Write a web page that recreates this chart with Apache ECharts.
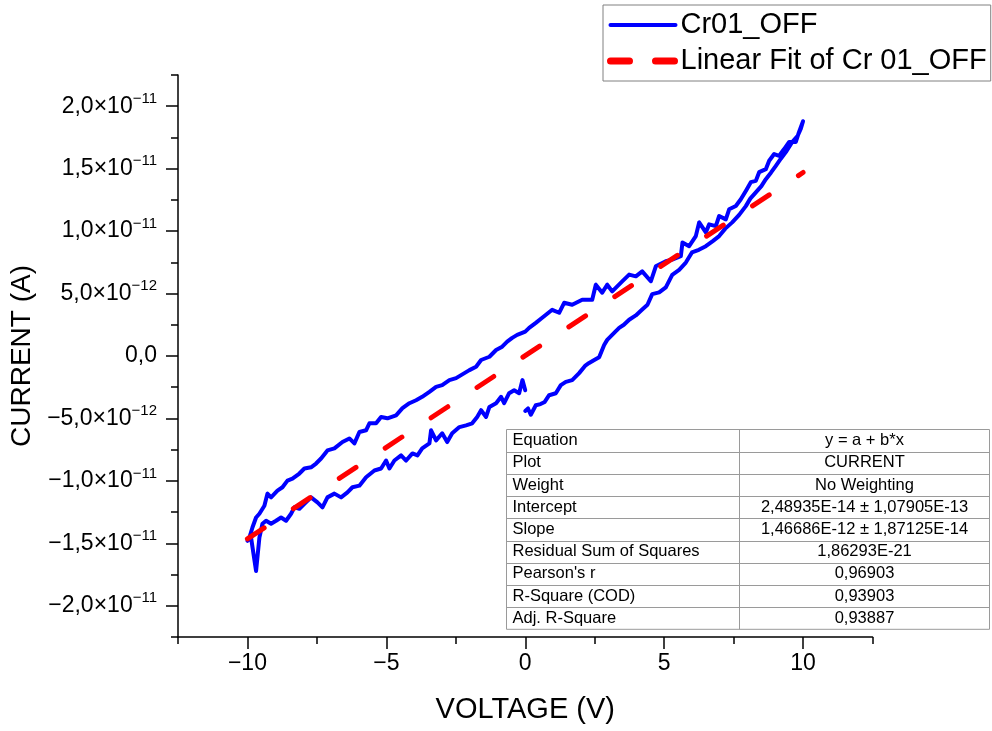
<!DOCTYPE html>
<html>
<head>
<meta charset="utf-8">
<script src="https://cdn.jsdelivr.net/npm/echarts@6/dist/echarts.min.js"></script>
<style>
  html, body { margin: 0; padding: 0; background: #fff; }
  #chart { width: 992px; height: 731px; }
</style>
</head>
<body>
<div id="chart"></div>
<script>
// Currents below are given in pA; CURRENT_UNIT turns them into amperes.
const CURRENT_UNIT = 1e-12;

// Sweep 0 V -> +10 V (lower right branch)
const sweepUpV = [0.0, 0.1, 0.2, 0.38, 0.55, 0.7, 0.86, 1.1, 1.28, 1.46, 1.69, 1.94, 2.15, 2.3, 2.5, 2.66, 2.84, 2.95, 3.2, 3.38, 3.55, 3.74, 3.98, 4.2, 4.4, 4.57, 4.82, 5.06, 5.29, 5.54, 5.78, 6.0, 6.25, 6.5, 6.75, 6.98, 7.2, 7.45, 7.7, 7.94, 8.1, 8.3, 8.5, 8.66, 8.85, 9.02, 9.2, 9.38, 9.6, 9.8, 9.92, 10.0];
const sweepUpI = [-4.4, -4.2, -4.7, -3.94, -3.85, -3.68, -3.14, -2.98, -2.33, -2.07, -1.93, -1.37, -0.8, -0.56, -0.3, -0.1, 0.88, 1.29, 1.85, 2.25, 2.5, 2.9, 3.25, 3.7, 4.1, 4.95, 5.1, 5.5, 6.5, 6.9, 7.48, 8.29, 8.5, 8.79, 9.2, 9.6, 10.2, 10.7, 11.3, 12.0, 12.6, 13.1, 13.6, 14.16, 14.7, 15.23, 15.8, 16.33, 17.1, 17.6, 18.2, 18.8];

// Sweep +10 V -> 0 V (upper right branch)
const sweepBackV = [9.85, 9.74, 9.5, 9.32, 9.14, 8.96, 8.78, 8.66, 8.42, 8.3, 8.12, 7.94, 7.76, 7.58, 7.34, 7.22, 6.98, 6.86, 6.62, 6.5, 6.26, 6.14, 5.9, 5.66, 5.6, 5.29, 5.06, 4.7, 4.52, 4.21, 3.98, 3.74, 3.49, 3.13, 2.95, 2.77, 2.54, 2.41, 2.05, 1.69, 1.4, 1.22, 0.97, 0.61, 0.38, 0.14, 0.0];
const sweepBackI = [17.9, 17.14, 17.14, 16.57, 16.03, 16.17, 15.63, 14.96, 14.72, 14.02, 13.92, 13.22, 12.55, 12.01, 11.75, 10.94, 11.21, 10.4, 10.54, 9.9, 10.7, 9.6, 8.79, 9.09, 7.99, 7.72, 7.59, 7.18, 5.98, 6.78, 6.38, 6.52, 5.98, 5.17, 5.71, 5.07, 5.71, 4.5, 4.5, 4.1, 4.26, 3.46, 3.7, 3.06, 2.65, 2.25, 1.95];

// Sweep 0 V -> -10 V (upper left branch)
const sweepDownV = [-0.11, -0.29, -0.47, -0.65, -0.83, -1.05, -1.29, -1.59, -1.77, -2.01, -2.19, -2.49, -2.73, -2.99, -3.21, -3.45, -3.71, -3.93, -4.17, -4.42, -4.65, -4.96, -5.19, -5.37, -5.61, -5.73, -5.97, -6.15, -6.33, -6.58, -6.87, -7.12, -7.35, -7.53, -7.71, -7.95, -8.13, -8.38, -8.56, -8.74, -8.92, -9.15, -9.28, -9.39, -9.57, -9.69, -9.82, -9.93, -10.0];
const sweepDownI = [1.85, 1.69, 1.45, 1.15, 0.75, 0.48, -0.06, -0.32, -0.86, -1.13, -1.37, -1.77, -1.93, -2.33, -2.47, -2.87, -3.27, -3.54, -3.78, -4.18, -4.75, -4.99, -4.88, -5.39, -5.39, -5.95, -6.09, -7.0, -6.6, -6.89, -7.4, -7.56, -8.21, -8.61, -8.91, -9.01, -9.41, -9.82, -9.98, -10.51, -10.78, -11.32, -11.02, -11.99, -12.63, -12.93, -13.73, -14.54, -14.8];

// Sweep -10 V -> 0 V (lower left branch)
const sweepReturnV = [-9.87, -9.69, -9.57, -9.46, -9.33, -9.15, -8.97, -8.79, -8.61, -8.43, -8.31, -8.13, -7.95, -7.71, -7.48, -7.3, -7.12, -6.87, -6.63, -6.4, -6.22, -5.97, -5.73, -5.43, -5.19, -5.01, -4.89, -4.71, -4.47, -4.29, -4.06, -3.88, -3.71, -3.45, -3.39, -3.21, -2.99, -2.81, -2.63, -2.37, -2.13, -1.91, -1.73, -1.59, -1.41, -1.29, -1.05, -0.87, -0.76, -0.58, -0.4, -0.22, -0.1, 0.0];
const sweepReturnI = [-14.54, -17.22, -14.54, -13.43, -13.19, -13.43, -13.19, -12.93, -13.19, -12.63, -12.12, -12.23, -11.83, -11.32, -11.72, -12.12, -11.32, -11.02, -11.32, -10.92, -10.51, -10.38, -9.71, -9.17, -9.01, -8.37, -9.01, -8.37, -7.96, -8.37, -7.8, -7.96, -7.4, -7.0, -5.95, -6.76, -6.19, -6.89, -6.19, -5.69, -5.55, -5.39, -4.88, -4.34, -4.88, -4.08, -3.78, -3.27, -3.78, -2.98, -2.74, -2.98, -1.93, -2.74];

// Linear fit end points (from intercept 2,48935E-14 A and slope 1,46686E-12 A/V)
const fitV = [-10, 10];
const fitI = [-14.6437, 14.6935];

// Axis ticks
const xMajorTicks = [-10, -5, 0, 5, 10];
const xMinorTicks = [-12.5, -7.5, -2.5, 2.5, 7.5, 12.5];
const yMajorTicks = [-2.0e-11, -1.5e-11, -1.0e-11, -5.0e-12, 0, 5.0e-12, 1.0e-11, 1.5e-11, 2.0e-11];
const yMinorTicks = [-2.25e-11, -1.75e-11, -1.25e-11, -7.5e-12, -2.5e-12, 2.5e-12, 7.5e-12, 1.25e-11, 1.75e-11, 2.25e-11];

// Fit statistics table
const fitLabels = ['Equation', 'Plot', 'Weight', 'Intercept', 'Slope', 'Residual Sum of Squares', "Pearson's r", 'R-Square (COD)', 'Adj. R-Square'];
const fitValues = ['y = a + b*x', 'CURRENT', 'No Weighting', '2,48935E-14 \u00b1 1,07905E-13', '1,46686E-12 \u00b1 1,87125E-14', '1,86293E-21', '0,96903', '0,93903', '0,93887'];

const FONT = "'Liberation Sans', Arial, sans-serif";

function pairs(vs, is) {
  return vs.map((v, k) => [v, is[k] * CURRENT_UNIT]);
}
const loopData = [].concat(
  pairs(sweepUpV, sweepUpI),
  pairs(sweepBackV, sweepBackI),
  pairs(sweepDownV, sweepDownI),
  pairs(sweepReturnV, sweepReturnI)
);
const fitData = pairs(fitV, fitI);

function minus(s) { return s.replace('-', '\u2212'); }

function sciLabel(v) {
  if (Math.abs(v) < 1e-20) return '{m|0,0}';
  const exp = Math.floor(Math.log10(Math.abs(v)) + 1e-9);
  const mant = (v / Math.pow(10, exp)).toFixed(1).replace('.', ',');
  return '{m|' + minus(mant) + '\u00d710}{e|' + minus(String(exp)) + '}';
}

// Table drawn as graphic elements
const tbl = { left: 506.5, top: 429.5, width: 483, rowH: 22.2, split: 739.5 };
const tableEls = [];
const tblH = tbl.rowH * fitLabels.length;
tableEls.push({
  type: 'rect', shape: { x: tbl.left, y: tbl.top, width: tbl.width, height: tblH },
  style: { fill: '#fff', stroke: '#9a9a9a', lineWidth: 1 }, z: 10
});
for (let r = 1; r < fitLabels.length; r++) {
  const y = Math.round(tbl.top + r * tbl.rowH) + 0.5;
  tableEls.push({
    type: 'line', shape: { x1: tbl.left, y1: y, x2: tbl.left + tbl.width, y2: y },
    style: { stroke: '#9a9a9a', lineWidth: 1 }, z: 11
  });
}
tableEls.push({
  type: 'line', shape: { x1: tbl.split, y1: tbl.top, x2: tbl.split, y2: tbl.top + tblH },
  style: { stroke: '#9a9a9a', lineWidth: 1 }, z: 11
});
fitLabels.forEach((lab, r) => {
  const cy = tbl.top + (r + 0.5) * tbl.rowH;
  tableEls.push({
    type: 'text', x: tbl.left + 6, y: cy, z: 12,
    style: { text: lab, fill: '#000', font: '16.5px ' + FONT, verticalAlign: 'middle', align: 'left' }
  });
  tableEls.push({
    type: 'text', x: (tbl.split + tbl.left + tbl.width) / 2, y: cy, z: 12,
    style: { text: fitValues[r], fill: '#000', font: '16.5px ' + FONT, verticalAlign: 'middle', align: 'center' }
  });
});

const chart = echarts.init(document.getElementById('chart'), null, { renderer: 'canvas' });

const axisLineStyle = { color: '#000', width: 1.5 };

chart.setOption({
  animation: false,
  backgroundColor: '#fff',
  textStyle: { fontFamily: FONT },
  grid: { left: 178, right: 119.5, top: 75, bottom: 94, containLabel: false },
  legend: {
    orient: 'vertical',
    left: 603, top: 5,
    padding: [4, 4, 4, 4],
    itemGap: 4,
    itemWidth: 65,
    itemHeight: 14,
    borderColor: '#808080',
    borderWidth: 1,
    backgroundColor: '#fff',
    itemStyle: { opacity: 0 },
    textStyle: { fontSize: 29, color: '#000', fontFamily: FONT, lineHeight: 32 },
    data: [
      { name: 'Cr01_OFF', lineStyle: { width: 4 } },
      { name: 'Linear Fit of Cr 01_OFF', lineStyle: { width: 7, type: [19, 26], cap: 'round' } }
    ]
  },
  xAxis: [
    {
      type: 'value', min: -12.5, max: 12.5, position: 'bottom',
      name: 'VOLTAGE (V)', nameLocation: 'middle', nameGap: 58,
      nameTextStyle: { fontSize: 29, color: '#000', fontFamily: FONT },
      axisLine: { show: true, onZero: false, lineStyle: axisLineStyle },
      axisTick: { show: true, customValues: xMajorTicks, length: 12, inside: false, lineStyle: axisLineStyle },
      axisLabel: {
        customValues: xMajorTicks, margin: 15, fontSize: 23, lineHeight: 23, color: '#000', fontFamily: FONT,
        formatter: v => minus(String(v))
      },
      splitLine: { show: false }
    },
    {
      type: 'value', min: -12.5, max: 12.5, position: 'bottom', offset: 0,
      axisLine: { show: false, onZero: false },
      axisTick: { show: true, customValues: xMinorTicks, length: 7, lineStyle: axisLineStyle },
      axisLabel: { show: false },
      splitLine: { show: false }
    }
  ],
  yAxis: [
    {
      type: 'value', min: -2.25e-11, max: 2.25e-11, position: 'left',
      name: 'CURRENT (A)', nameLocation: 'middle', nameGap: 135,
      nameTextStyle: { fontSize: 28, color: '#000', fontFamily: FONT },
      axisLine: { show: true, onZero: false, lineStyle: axisLineStyle },
      axisTick: { show: true, customValues: yMajorTicks, length: 12, lineStyle: axisLineStyle },
      axisLabel: {
        customValues: yMajorTicks, margin: 21, color: '#000',
        formatter: sciLabel,
        rich: {
          m: { fontSize: 23, lineHeight: 30, color: '#000', fontFamily: FONT },
          e: { fontSize: 15, lineHeight: 14, verticalAlign: 'top', color: '#000', fontFamily: FONT }
        }
      },
      splitLine: { show: false }
    },
    {
      type: 'value', min: -2.25e-11, max: 2.25e-11, position: 'left', offset: 0,
      axisLine: { show: false, onZero: false },
      axisTick: { show: true, customValues: yMinorTicks, length: 7, lineStyle: axisLineStyle },
      axisLabel: { show: false },
      splitLine: { show: false }
    }
  ],
  series: [
    {
      name: 'Cr01_OFF', type: 'line', xAxisIndex: 0, yAxisIndex: 0,
      data: loopData, showSymbol: false, symbol: 'none', smooth: false,
      lineStyle: { color: '#0000ff', width: 4, join: 'round', cap: 'round' },
      itemStyle: { color: '#0000ff' }, z: 2
    },
    {
      name: 'Linear Fit of Cr 01_OFF', type: 'line', xAxisIndex: 0, yAxisIndex: 0,
      data: fitData, showSymbol: false, symbol: 'none',
      lineStyle: { color: '#ff0000', width: 5, type: [20, 35], cap: 'round' },
      itemStyle: { color: '#ff0000' }, z: 3
    }
  ],
  graphic: tableEls
});
</script>
</body>
</html>
